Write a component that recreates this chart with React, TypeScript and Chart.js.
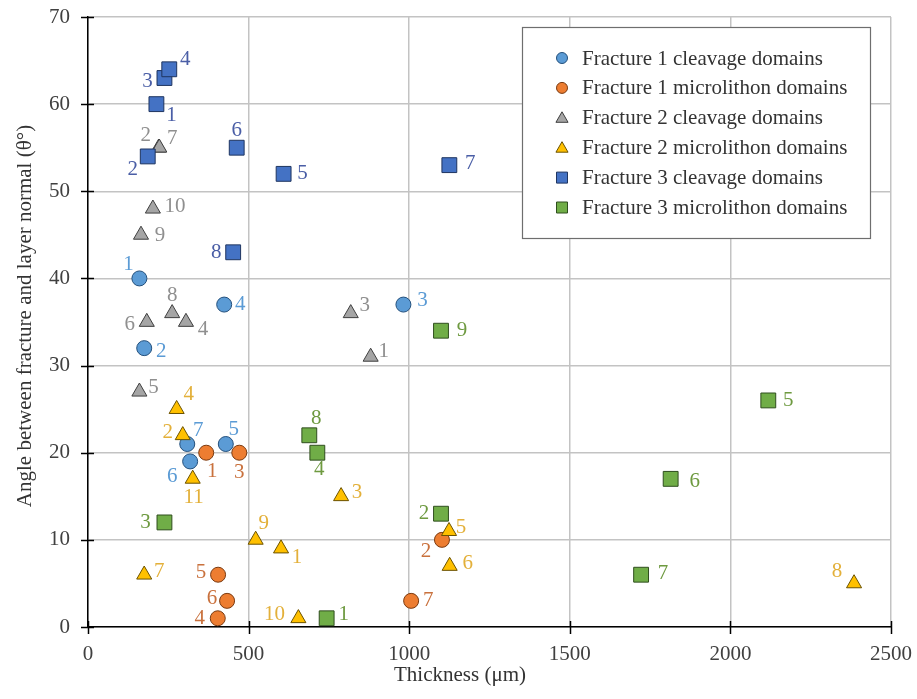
import React, { useEffect, useRef } from 'react';
import { Chart, registerables } from 'chart.js';

Chart.register(...registerables);

// ---------- data ----------
const SERIES_NAMES = [
  'Fracture 1 cleavage domains',
  'Fracture 1 microlithon domains',
  'Fracture 2 cleavage domains',
  'Fracture 2 microlithon domains',
  'Fracture 3 cleavage domains',
  'Fracture 3 microlithon domains',
];

const X_TICKS = [0, 500, 1000, 1500, 2000, 2500];
const Y_TICKS = [0, 10, 20, 30, 40, 50, 60, 70];

const F1C_X = [160, 175, 982, 424, 429, 318, 309];
const F1C_Y = [40, 32, 37, 37, 21, 19, 21];
const F1C_LABELS = ['1', '2', '3', '4', '5', '6', '7'];

const F1M_X = [368, 1102, 471, 404, 405, 433, 1006];
const F1M_Y = [20, 10, 20, 1, 6, 3, 3];
const F1M_LABELS = ['1', '2', '3', '4', '5', '6', '7'];

const F2C_X = [880, 220, 818, 305, 160, 183, 222, 262, 165, 202];
const F2C_Y = [31, 55, 36, 35, 27, 35, 55, 36, 45, 48];
const F2C_LABELS = ['1', '2', '3', '4', '5', '6', '7', '8', '9', '10'];

const F2M_X = [601, 295, 788, 276, 1124, 1126, 175, 2385, 522, 655, 326];
const F2M_Y = [9, 22, 15, 25, 11, 7, 6, 5, 10, 1, 17];
const F2M_LABELS = ['1', '2', '3', '4', '5', '6', '7', '8', '9', '10', '11'];

const F3C_X = [213, 186, 238, 253, 609, 463, 1125, 452];
const F3C_Y = [60, 54, 63, 64, 52, 55, 53, 43];
const F3C_LABELS = ['1', '2', '3', '4', '5', '6', '7', '8'];

const F3M_X = [743, 1099, 238, 714, 2118, 1814, 1722, 689, 1099];
const F3M_Y = [1, 13, 12, 20, 26, 17, 6, 22, 34];
const F3M_LABELS = ['1', '2', '3', '4', '5', '6', '7', '8', '9'];

// ---------- label placement (pixel offsets of each number from its marker) ----------
const F1C_OFF = [[-11, -14], [17, 3], [19, -4], [16, 0], [8, -15], [-18, 15], [11, -14]];
const F1M_OFF = [[6, 19], [-16, 12], [0, 20], [-18, 0], [-17, -2], [-15, -2], [17, 0]];
const F2C_OFF = [[13, -5], [-13, -12], [14, -8], [17, 7], [14, -4], [-17, 2], [13, -9], [0, -18], [19, 1], [22, -2]];
const F2M_OFF = [[16, 9], [-15, -3], [16, -4], [12, -15], [12, -4], [18, -3], [15, -3], [-17, -12], [8, -16], [-24, -4], [1, 19]];
const F3C_OFF = [[15, 11], [-15, 13], [-17, 3], [16, -10], [19, 0], [0, -17], [21, -2], [-17, 0]];
const F3M_OFF = [[17, -4], [-17, 0], [-19, 0], [2, 17], [20, 0], [24, 3], [22, -1], [7, -17], [21, 0]];

// ---------- styles ----------
const FONT = '"Liberation Serif", "Times New Roman", serif';
const STYLES = [
  { shape: 'circle', fill: '#5B9BD5', border: '#24507C', label: '#5B9BD5', radius: 7.5 },
  { shape: 'circle', fill: '#ED7D31', border: '#7A3A10', label: '#C9713D', radius: 7.5 },
  { shape: 'triangle', fill: '#A5A5A5', border: '#3F3F3F', label: '#8F8F8F', radius: 8.7 },
  { shape: 'triangle', fill: '#FFC000', border: '#6B5200', label: '#E3B03A', radius: 8.7 },
  { shape: 'rect', fill: '#4472C4', border: '#1F3560', label: '#4A5EA6', radius: 10.5 },
  { shape: 'rect', fill: '#70AD47', border: '#2F4E1E', label: '#6E9A40', radius: 10.5 },
];

const SERIES = [
  { x: F1C_X, y: F1C_Y, labels: F1C_LABELS, off: F1C_OFF },
  { x: F1M_X, y: F1M_Y, labels: F1M_LABELS, off: F1M_OFF },
  { x: F2C_X, y: F2C_Y, labels: F2C_LABELS, off: F2C_OFF },
  { x: F2M_X, y: F2M_Y, labels: F2M_LABELS, off: F2M_OFF },
  { x: F3C_X, y: F3C_Y, labels: F3C_LABELS, off: F3C_OFF },
  { x: F3M_X, y: F3M_Y, labels: F3M_LABELS, off: F3M_OFF },
];

const pointLabelPlugin = {
  id: 'pointLabels',
  afterDatasetsDraw(chart: any) {
    const ctx = chart.ctx;
    ctx.save();
    ctx.font = `21px ${FONT}`;
    ctx.textAlign = 'center';
    ctx.textBaseline = 'middle';
    SERIES.forEach((s, di) => {
      const meta = chart.getDatasetMeta(di);
      ctx.fillStyle = STYLES[di].label;
      meta.data.forEach((el: any, i: number) => {
        const o = s.off[i] || [12, 0];
        ctx.fillText(s.labels[i], el.x + o[0], el.y + o[1]);
      });
    });
    ctx.restore();
  },
};

function drawMarker(ctx: CanvasRenderingContext2D, shape: string, x: number, y: number, r: number) {
  ctx.beginPath();
  if (shape === 'circle') {
    ctx.arc(x, y, r, 0, Math.PI * 2);
  } else if (shape === 'triangle') {
    const h = r * 1.5;
    const w = r * Math.sqrt(3);
    ctx.moveTo(x, y - r);
    ctx.lineTo(x + w / 2, y - r + h);
    ctx.lineTo(x - w / 2, y - r + h);
    ctx.closePath();
  } else {
    ctx.rect(x - r, y - r, 2 * r, 2 * r);
  }
  ctx.fill();
  ctx.stroke();
}

const decorPlugin = {
  id: 'decor',
  afterDraw(chart: any) {
    const ctx = chart.ctx;
    const xs = chart.scales.x;
    const ys = chart.scales.y;
    const area = chart.chartArea;
    ctx.save();
    // tick marks crossing the axes
    ctx.strokeStyle = '#000';
    ctx.lineWidth = 1.5;
    X_TICKS.forEach((v) => {
      const px = Math.round(xs.getPixelForValue(v)) + 0.5;
      ctx.beginPath();
      ctx.moveTo(px, area.bottom - 6);
      ctx.lineTo(px, area.bottom + 7);
      ctx.stroke();
    });
    Y_TICKS.forEach((v) => {
      const py = Math.round(ys.getPixelForValue(v)) + 0.5;
      ctx.beginPath();
      ctx.moveTo(area.left - 7, py);
      ctx.lineTo(area.left + 6, py);
      ctx.stroke();
    });

    // axis titles
    ctx.fillStyle = '#333';
    ctx.font = `21px ${FONT}`;
    ctx.textAlign = 'center';
    ctx.textBaseline = 'middle';
    ctx.fillText('Thickness (\u03bcm)', 460, 675);
    ctx.save();
    ctx.translate(25, 316);
    ctx.rotate(-Math.PI / 2);
    ctx.fillText('Angle between fracture and layer normal (\u03b8\u00b0)', 0, 0);
    ctx.restore();

    // legend
    const lx = 522.5, ly = 27.5, lw = 348, lh = 211;
    ctx.fillStyle = '#fff';
    ctx.fillRect(lx, ly, lw, lh);
    ctx.strokeStyle = '#6E6E6E';
    ctx.lineWidth = 1.2;
    ctx.strokeRect(lx, ly, lw, lh);
    ctx.font = `21px ${FONT}`;
    ctx.textAlign = 'left';
    ctx.textBaseline = 'middle';
    SERIES_NAMES.forEach((name, i) => {
      const cy = 58 + i * 29.9;
      const st = STYLES[i];
      ctx.fillStyle = st.fill;
      ctx.strokeStyle = st.border;
      ctx.lineWidth = 1;
      const r = st.shape === 'circle' ? 5.5 : st.shape === 'triangle' ? 7 : 5.5;
      drawMarker(ctx, st.shape, 562, cy + (st.shape === 'triangle' ? 1 : 0), r);
      ctx.fillStyle = '#333';
      ctx.fillText(name, 582, cy + 1);
    });
    ctx.restore();
  },
};

function zeroPadding(scale: any) {
  scale.paddingTop = 0;
  scale.paddingBottom = 0;
  scale.paddingLeft = 0;
  scale.paddingRight = 0;
}

export default function App() {
  const ref = useRef<HTMLCanvasElement | null>(null);

  useEffect(() => {
    if (!ref.current) return;
    const datasets = SERIES.map((s, i) => ({
      label: SERIES_NAMES[i],
      data: s.x.map((xv, j) => ({ x: xv, y: s.y[j] })),
      pointStyle: STYLES[i].shape,
      pointRadius: STYLES[i].radius,
      pointHoverRadius: STYLES[i].radius,
      pointBackgroundColor: STYLES[i].fill,
      pointBorderColor: STYLES[i].border,
      pointBorderWidth: 1,
      backgroundColor: STYLES[i].fill,
      borderColor: STYLES[i].border,
      showLine: false,
      order: 5 - i,
    }));

    const chart = new Chart(ref.current, {
      type: 'scatter',
      data: { datasets },
      options: {
        responsive: false,
        animation: false,
        layout: { padding: { top: 17, right: 26, left: 0, bottom: 0 } },
        plugins: {
          legend: { display: false },
          tooltip: { enabled: false },
        },
        scales: {
          x: {
            type: 'linear',
            min: 0,
            max: 2500,
            afterBuildTicks: (scale: any) => {
              scale.ticks = X_TICKS.map((v) => ({ value: v }));
            },
            ticks: {
              font: { family: FONT, size: 21 },
              color: '#404040',
              padding: 15,
              maxRotation: 0,
              callback: (v: any) => String(v),
            },
            grid: { color: '#C3C3C3', lineWidth: 1.5, drawTicks: false },
            border: { color: '#000', width: 1.5 },
            afterFit: (scale: any) => {
              scale.height = 72;
              zeroPadding(scale);
            },
          },
          y: {
            type: 'linear',
            min: 0,
            max: 70,
            afterBuildTicks: (scale: any) => {
              scale.ticks = Y_TICKS.map((v) => ({ value: v }));
            },
            ticks: {
              font: { family: FONT, size: 21 },
              color: '#404040',
              padding: 18,
              callback: (v: any) => String(v),
            },
            grid: { color: '#C3C3C3', lineWidth: 1.5, drawTicks: false },
            border: { color: '#000', width: 1.5 },
            afterFit: (scale: any) => {
              scale.width = 88;
              zeroPadding(scale);
            },
          },
        },
      },
      plugins: [pointLabelPlugin, decorPlugin],
    } as any);

    return () => chart.destroy();
  }, []);

  return (
    <div style={{ position: 'absolute', left: 0, top: 0, width: 917, height: 699, background: '#fff' }}>
      <canvas ref={ref} width={917} height={699} style={{ display: 'block' }} />
    </div>
  );
}
